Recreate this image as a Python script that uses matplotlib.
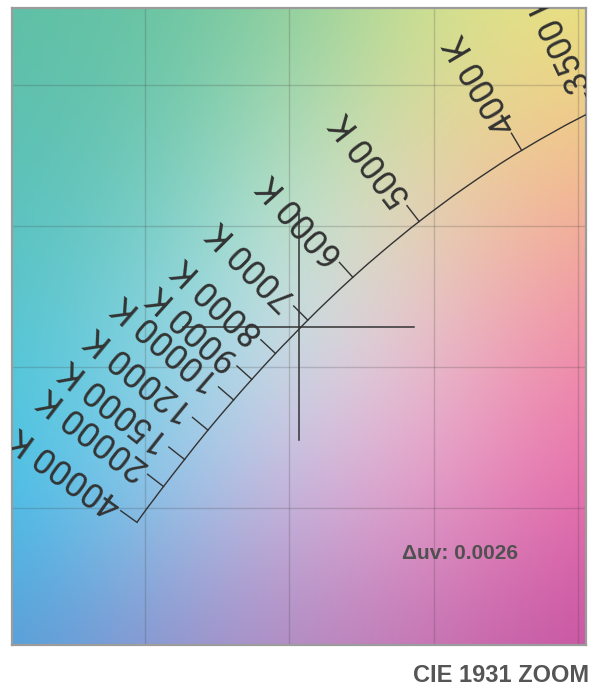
import numpy as np
import matplotlib
matplotlib.use("Agg")
import matplotlib.pyplot as plt
from matplotlib.path import Path
from matplotlib.patches import PathPatch

# ---------------- data ----------------
# Planckian locus, CIE 1931 xy chromaticity
locus_T = [3000, 3500, 4000, 4500, 5000, 5500, 6000, 6500, 7000, 7500, 8000,
           9000, 10000, 12000, 15000, 20000, 25000, 30000, 40000]
locus_x = [0.4369, 0.4053, 0.3805, 0.3607, 0.3450, 0.3323, 0.3220, 0.3135,
           0.3064, 0.3004, 0.2952, 0.2870, 0.2807, 0.2718, 0.2637, 0.2564,
           0.2525, 0.2500, 0.2472]
locus_y = [0.4041, 0.3907, 0.3768, 0.3635, 0.3516, 0.3410, 0.3318, 0.3237,
           0.3166, 0.3103, 0.3048, 0.2956, 0.2883, 0.2776, 0.2672, 0.2576,
           0.2523, 0.2489, 0.2449]

# labelled isotherms
label_T = [3500, 4000, 5000, 6000, 7000, 8000, 9000, 10000, 12000, 15000,
           20000, 40000]

# measured point (crosshair) and its deviation
point_x = 0.3033
point_y = 0.3142
cross_half = 0.040
delta_uv = 0.0026

# axis ranges and grid
x_range = (0.2039, 0.4028)
y_range = (0.2014, 0.4273)
grid_x = [0.25, 0.30, 0.35, 0.40]
grid_y = [0.25, 0.30, 0.35, 0.40]

# background colour samples (rows top->bottom, columns left->right)
bg_colors = [
    [(95, 192, 165), (102, 195, 160), (140, 205, 155), (212, 228, 140), (234, 228, 126)],
    [(90, 192, 183), (112, 200, 182), (188, 228, 198), (236, 214, 160), (246, 186, 140)],
    [(84, 196, 206), (132, 212, 228), (214, 234, 236), (234, 192, 202), (242, 140, 165)],
    [(62, 196, 236), (148, 204, 238), (210, 184, 224), (236, 156, 200), (232, 106, 170)],
    [(86, 156, 216), (140, 146, 206), (180, 136, 190), (196, 110, 176), (196, 80, 160)],
]

# ---------------- figure ----------------
W, H = 602, 693
fig = plt.figure(figsize=(W / 100, H / 100), dpi=100)
fig.patch.set_facecolor("white")
ax_l, ax_r, ax_t, ax_b = 12, 586, 8, 645
ax = fig.add_axes([ax_l / W, (H - ax_b) / H, (ax_r - ax_l) / W, (ax_b - ax_t) / H])

# background gradient
img = np.array(bg_colors, dtype=float) / 255.0
n_r, n_c = img.shape[0], img.shape[1]
dx = (x_range[1] - x_range[0]) / (n_c - 1)
dy = (y_range[1] - y_range[0]) / (n_r - 1)
ax.imshow(img, extent=[x_range[0] - dx / 2, x_range[1] + dx / 2,
                       y_range[0] - dy / 2, y_range[1] + dy / 2],
          origin="upper", interpolation="bicubic", aspect="auto", zorder=0)

ax.set_xlim(*x_range)
ax.set_ylim(*y_range)
ax.set_xticks(grid_x)
ax.set_yticks(grid_y)
ax.tick_params(length=0, labelbottom=False, labelleft=False)
ax.grid(True, color=(0.25, 0.25, 0.25), alpha=0.22, lw=1.0, zorder=1)
for s in ax.spines.values():
    s.set_color("#9c9c9c")
    s.set_linewidth(1.6)

ink = "#333333"

# Planckian locus drawn as a smooth cubic path through the data points
P = np.column_stack([locus_x, locus_y])
n = len(P)
tang = np.zeros_like(P)
for i in range(n):
    a = P[max(i - 1, 0)]
    b = P[min(i + 1, n - 1)]
    t = b - a
    tang[i] = t / np.hypot(t[0], t[1])
verts = [tuple(P[0])]
codes = [Path.MOVETO]
for i in range(n - 1):
    L = np.hypot(*(P[i + 1] - P[i])) / 3.0
    c1 = P[i] + tang[i] * L
    c2 = P[i + 1] - tang[i + 1] * L
    verts += [tuple(c1), tuple(c2), tuple(P[i + 1])]
    codes += [Path.CURVE4, Path.CURVE4, Path.CURVE4]
ax.add_patch(PathPatch(Path(verts, codes), facecolor="none", edgecolor=ink,
                       lw=1.0, zorder=3))

# crosshair
ax.plot([point_x - cross_half, point_x + cross_half], [point_y, point_y],
        color=ink, lw=1.1, zorder=3)
ax.plot([point_x, point_x], [point_y - cross_half, point_y + cross_half],
        color=ink, lw=1.1, zorder=3)

# isotherm ticks and labels
fig.canvas.draw()
trans = ax.transData
inv = trans.inverted()
pts = trans.transform(P)
tick_px = 20.0
gap_px = 3.0
for T in label_T:
    i = locus_T.index(T)
    i0 = max(i - 1, 0)
    i1 = min(i + 1, n - 1)
    d = pts[i1] - pts[i0]
    d = d / np.hypot(d[0], d[1])
    nrm = np.array([-d[1], d[0]])
    if nrm[0] > 0:
        nrm = -nrm
    p0 = pts[i]
    p1 = p0 + nrm * tick_px
    p2 = p0 + nrm * (tick_px + gap_px)
    q0, q1, q2 = inv.transform(np.vstack([p0, p1, p2]))
    ax.plot([q0[0], q1[0]], [q0[1], q1[1]], color=ink, lw=1.0, zorder=3)
    ang = np.degrees(np.arctan2(nrm[1], nrm[0]))
    ax.text(q2[0], q2[1], f"{T} K", rotation=ang, rotation_mode="anchor",
            ha="left", va="center", fontsize=25, color=ink,
            family=["Roboto", "DejaVu Sans"], clip_on=True, zorder=4)

ax.text(0.780, 0.144, f"\u0394uv: {delta_uv:.4f}", transform=ax.transAxes,
        ha="center", va="center", fontsize=15, fontweight="bold",
        color="#505050", family=["Liberation Sans", "DejaVu Sans"], zorder=5)

fig.text(589 / W, (H - 676) / H, "CIE 1931 ZOOM", ha="right", va="center",
         fontsize=17, fontweight="bold", color="#555555",
         family=["Liberation Sans", "DejaVu Sans"])

fig.savefig("out.png", dpi=100, facecolor="white")
